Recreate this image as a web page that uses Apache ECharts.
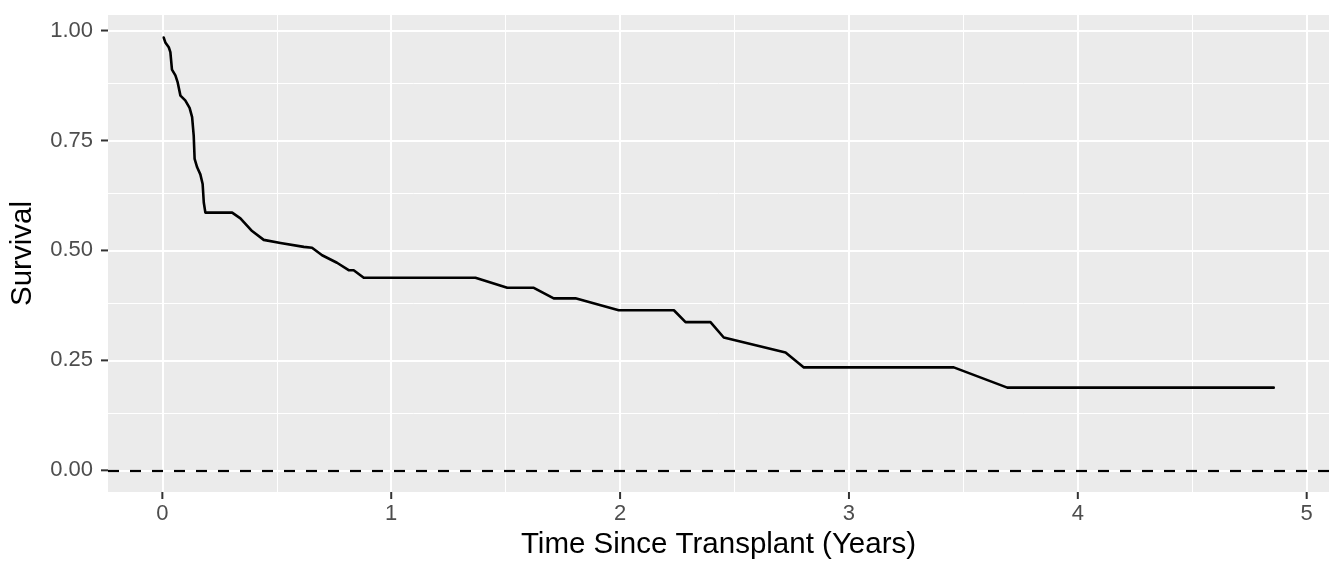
<!DOCTYPE html>
<html>
<head>
  <meta charset="UTF-8">
  <style>
    html, body { margin: 0; padding: 0; background: #fff; }
    #chart { width: 1344px; height: 576px; }
  </style>
</head>
<body>
<div id="chart"></div>
<script src="https://cdn.jsdelivr.net/npm/echarts@6/dist/echarts.min.js"></script>
<script type="text/javascript">
  // survival curve
  var years = [0.006, 0.013, 0.028, 0.035, 0.042, 0.057, 0.067, 0.079, 0.100, 0.119,
    0.130, 0.137, 0.141, 0.152, 0.166, 0.176, 0.181, 0.188, 0.305, 0.341,
    0.392, 0.443, 0.516, 0.618, 0.654, 0.698, 0.763, 0.814, 0.836, 0.880,
    1.368, 1.507, 1.623, 1.710, 1.805, 1.994, 2.235, 2.286, 2.395, 2.453,
    2.723, 2.803, 3.458, 3.692, 4.856];
  var survival = [0.984, 0.973, 0.962, 0.951, 0.911, 0.898, 0.882, 0.852, 0.841, 0.824,
    0.803, 0.761, 0.708, 0.689, 0.673, 0.651, 0.609, 0.586, 0.586, 0.573,
    0.544, 0.524, 0.517, 0.508, 0.506, 0.489, 0.472, 0.455, 0.455, 0.438,
    0.438, 0.415, 0.415, 0.391, 0.391, 0.364, 0.364, 0.337, 0.337, 0.302,
    0.268, 0.234, 0.234, 0.188, 0.188];

  var xMajor = [0, 1, 2, 3, 4, 5];
  var xMinor = [0.5, 1.5, 2.5, 3.5, 4.5];
  var yMajor = [0, 0.25, 0.5, 0.75, 1];
  var yMinor = [0.125, 0.375, 0.625, 0.875];
  var refLine = 0;

  var X_MIN = -0.2375, X_MAX = 5.0975;
  var Y_MIN = -0.0493, Y_MAX = 1.0353;

  var pts = years.map(function (t, i) { return [t, survival[i]]; });

  function vlines(arr) { return arr.map(function (v) { return { xAxis: v }; }); }
  function hlines(arr) { return arr.map(function (v) { return { yAxis: v }; }); }

  var chart = echarts.init(document.getElementById('chart'), null, { renderer: 'canvas' });
  var labelStyle = { color: '#4D4D4D', fontSize: 22, fontFamily: 'Liberation Sans' };
  var nameStyle = { color: '#000', fontSize: 29.5, fontFamily: 'Liberation Sans' };
  var TICK_LEN = 7;

  // tick marks outside the panel, placed through the axes' own scales
  function tickSeries(values, dim) {
    return {
      type: 'custom', z: 4, silent: true, clip: false,
      data: values.map(function (v) { return dim === 'x' ? [v, Y_MIN] : [X_MIN, v]; }),
      renderItem: function (params, api) {
        var p = api.coord([api.value(0), api.value(1)]);
        var end = dim === 'x' ? [p[0], p[1] + TICK_LEN] : [p[0] - TICK_LEN, p[1]];
        return {
          type: 'line',
          shape: { x1: p[0], y1: p[1], x2: end[0], y2: end[1] },
          style: { stroke: '#333333', lineWidth: 2 }
        };
      }
    };
  }

  var option = {
    animation: false,
    grid: {
      left: 108, right: 15, top: 15, bottom: 84,
      containLabel: false, outerBoundsMode: 'none',
      show: true, backgroundColor: '#EBEBEB', borderWidth: 0
    },
    xAxis: {
      type: 'value', min: X_MIN, max: X_MAX,
      name: 'Time Since Transplant (Years)', nameLocation: 'middle', nameGap: 37,
      nameTextStyle: nameStyle,
      axisLine: { show: false },
      axisTick: { show: false },
      axisLabel: Object.assign({ margin: 11, customValues: xMajor }, labelStyle),
      splitLine: { show: false }
    },
    yAxis: {
      type: 'value', min: Y_MIN, max: Y_MAX,
      name: 'Survival', nameLocation: 'middle', nameGap: 70, nameRotate: 90,
      nameTextStyle: nameStyle,
      axisLine: { show: false },
      axisTick: { show: false },
      axisLabel: Object.assign({ margin: 15, customValues: yMajor,
        formatter: function (v) { return v.toFixed(2); } }, labelStyle),
      splitLine: { show: false }
    },
    series: [
      {
        name: 'minor grid', type: 'line', data: [], z: 1, silent: true,
        markLine: {
          z: 1, silent: true, symbol: 'none', label: { show: false }, animation: false,
          lineStyle: { color: '#fff', width: 1, type: 'solid' },
          data: vlines(xMinor).concat(hlines(yMinor))
        }
      },
      {
        name: 'major grid', type: 'line', data: [], z: 1, silent: true,
        markLine: {
          z: 2, silent: true, symbol: 'none', label: { show: false }, animation: false,
          lineStyle: { color: '#fff', width: 2, type: 'solid' },
          data: vlines(xMajor).concat(hlines(yMajor))
        }
      },
      tickSeries(xMajor, 'x'),
      tickSeries(yMajor, 'y'),
      {
        name: 'Survival', type: 'line', data: pts, z: 6,
        showSymbol: false, symbol: 'none',
        lineStyle: { color: '#000', width: 2.6, join: 'round', cap: 'round' },
        markLine: {
          z: 6, silent: true, symbol: 'none', label: { show: false }, animation: false,
          lineStyle: { color: '#000', width: 2.2, type: [11, 11] },
          data: [{ yAxis: refLine }]
        }
      }
    ]
  };
  chart.setOption(option);
</script>
</body>
</html>
